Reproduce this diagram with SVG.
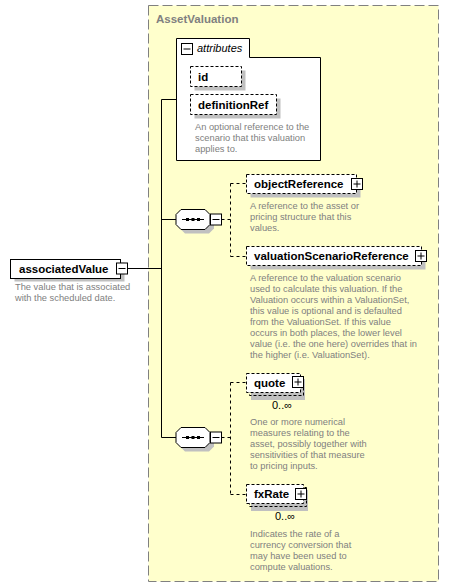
<svg xmlns="http://www.w3.org/2000/svg" width="449" height="588" viewBox="0 0 449 588">
<style>
.name{font-family:"Liberation Sans",Arial,sans-serif;font-weight:bold;font-size:11.5px;fill:#000}
.desc{font-family:"Liberation Sans",Arial,sans-serif;font-size:9.3px;fill:#808080}
.occ{font-family:"Liberation Sans",Arial,sans-serif;font-size:11px;fill:#000;text-anchor:middle}
.box{fill:#fff;stroke:#000;stroke-width:1}
.dbox{fill:#fff;stroke:#000;stroke-width:1;stroke-dasharray:3,2}
.dback{fill:none;stroke:#000;stroke-width:1;stroke-dasharray:3,2}
.shadow{fill:#c0c0c0}
.line{stroke:#000;stroke-width:1;fill:none}
.dline{stroke:#000;stroke-width:1;fill:none;stroke-dasharray:3,3}
.btn{fill:#fff;stroke:#000;stroke-width:1}
</style>
<defs>
<g id="minus"><rect class="btn" x="0" y="0" width="11" height="11"/><line class="line" x1="2" y1="5.5" x2="9" y2="5.5"/></g>
<g id="plus"><rect class="btn" x="0" y="0" width="11" height="11"/><line class="line" x1="2" y1="5.5" x2="9" y2="5.5"/><line class="line" x1="5.5" y1="2" x2="5.5" y2="9"/></g>
<g id="seq">
<polygon class="shadow" points="9,4 33,4 38,9 38,19 33,24 9,24 4,19 4,9"/>
<polygon class="box" points="5,0 29,0 34,5 34,15 29,20 5,20 0,15 0,5"/>
<line class="line" x1="6" y1="10" x2="28" y2="10"/>
<rect x="10" y="8.5" width="3" height="3" fill="#000"/>
<rect x="15.5" y="8.5" width="3" height="3" fill="#000"/>
<rect x="21" y="8.5" width="3" height="3" fill="#000"/>
</g>
</defs>

<g id="AssetValuation">
<rect x="148.5" y="5.5" width="290" height="576" fill="#ffffcc" stroke="#808080" stroke-width="1" stroke-dasharray="10,4"/>
<text x="156" y="23" font-family="Liberation Sans,Arial,sans-serif" font-weight="bold" font-size="11.5" fill="#808080">AssetValuation</text>
</g>

<g id="connectors">
<line class="line" x1="128" y1="268.5" x2="161.5" y2="268.5"/>
<line class="line" x1="161.5" y1="99.5" x2="161.5" y2="437.5"/>
<line class="line" x1="161.5" y1="99.5" x2="176.5" y2="99.5"/>
<line class="line" x1="161.5" y1="219.5" x2="176" y2="219.5"/>
<line class="line" x1="161.5" y1="437.5" x2="176" y2="437.5"/>
<line class="dline" x1="221.5" y1="219.5" x2="230.5" y2="219.5"/>
<line class="dline" x1="230.5" y1="183.5" x2="230.5" y2="256.5"/>
<line class="dline" x1="230.5" y1="183.5" x2="246.5" y2="183.5"/>
<line class="dline" x1="230.5" y1="256.5" x2="246.5" y2="256.5"/>
<line class="dline" x1="221.5" y1="437.5" x2="230.5" y2="437.5"/>
<line class="dline" x1="230.5" y1="382.5" x2="230.5" y2="494.5"/>
<line class="dline" x1="230.5" y1="382.5" x2="246.5" y2="382.5"/>
<line class="dline" x1="230.5" y1="494.5" x2="246.5" y2="494.5"/>
</g>

<g id="associatedValue">
<rect class="shadow" x="14.5" y="262.5" width="110" height="19"/>
<rect class="box" x="10.5" y="259.5" width="110" height="19"/>
<text class="name" x="19" y="272.5">associatedValue</text>
<use href="#minus" x="116.5" y="263"/>
<text class="desc" x="15" y="290">The value that is associated</text>
<text class="desc" x="15" y="301">with the scheduled date.</text>
</g>

<g id="attributes">
<path class="box" d="M176.5,38.5 H249.5 V57.5 H320.5 V160.5 H176.5 Z"/>
<use href="#minus" x="181.5" y="43.5"/>
<text x="197" y="52" font-family="Liberation Sans,Arial,sans-serif" font-style="italic" font-size="11" fill="#000">attributes</text>
</g>

<g id="id">
<rect class="shadow" x="194.5" y="70.5" width="51" height="20"/>
<rect class="dbox" x="190.5" y="66.5" width="51" height="20"/>
<text class="name" x="198" y="80.5">id</text>
</g>

<g id="definitionRef">
<rect class="shadow" x="194.5" y="98.5" width="86" height="20"/>
<rect class="dbox" x="190.5" y="94.5" width="86" height="20"/>
<text class="name" x="198" y="108.5">definitionRef</text>
<text class="desc" x="195" y="130">An optional reference to the</text>
<text class="desc" x="195" y="141">scenario that this valuation</text>
<text class="desc" x="195" y="152">applies to.</text>
</g>

<g id="sequence1">
<use href="#seq" x="176" y="209.5"/>
<use href="#minus" x="210.5" y="214"/>
</g>

<g id="objectReference">
<rect class="shadow" x="250.5" y="178.5" width="110" height="19"/>
<rect class="dbox" x="246.5" y="174.5" width="110" height="19"/>
<text class="name" x="254" y="187.5">objectReference</text>
<use href="#plus" x="351.5" y="178.5"/>
<text class="desc" x="250" y="208.5">A reference to the asset or</text>
<text class="desc" x="250" y="219.5">pricing structure that this</text>
<text class="desc" x="250" y="230.5">values.</text>
</g>

<g id="valuationScenarioReference">
<rect class="shadow" x="250.5" y="250.5" width="175" height="19"/>
<rect class="dbox" x="246.5" y="246.5" width="175" height="19"/>
<text class="name" x="254" y="259.5">valuationScenarioReference</text>
<use href="#plus" x="415.5" y="250.5"/>
<text class="desc" x="250" y="280.5">A reference to the valuation scenario</text>
<text class="desc" x="250" y="291.5">used to calculate this valuation. If the</text>
<text class="desc" x="250" y="302.5">Valuation occurs within a ValuationSet,</text>
<text class="desc" x="250" y="313.5">this value is optional and is defaulted</text>
<text class="desc" x="250" y="324.5">from the ValuationSet. If this value</text>
<text class="desc" x="250" y="335.5">occurs in both places, the lower level</text>
<text class="desc" x="250" y="346.5">value (i.e. the one here) overrides that in</text>
<text class="desc" x="250" y="357.5">the higher (i.e. ValuationSet).</text>
</g>

<g id="sequence2">
<use href="#seq" x="176" y="427.5"/>
<use href="#minus" x="210.5" y="432"/>
</g>

<g id="quote">
<rect class="shadow" x="251" y="379" width="54" height="21"/>
<rect class="dback" x="249.5" y="376.5" width="54" height="19"/>
<rect class="dbox" x="246.5" y="373.5" width="54" height="19"/>
<text class="name" x="254" y="386.5">quote</text>
<use href="#plus" x="292.5" y="376.5"/>
<text class="occ" x="282" y="408.5">0..∞</text>
<text class="desc" x="250" y="424.5">One or more numerical</text>
<text class="desc" x="250" y="435.5">measures relating to the</text>
<text class="desc" x="250" y="446.5">asset, possibly together with</text>
<text class="desc" x="250" y="457.5">sensitivities of that measure</text>
<text class="desc" x="250" y="468.5">to pricing inputs.</text>
</g>

<g id="fxRate">
<rect class="shadow" x="251" y="490" width="57" height="21"/>
<rect class="dback" x="249.5" y="487.5" width="57" height="19"/>
<rect class="dbox" x="246.5" y="484.5" width="57" height="19"/>
<text class="name" x="254" y="497.5">fxRate</text>
<use href="#plus" x="295.5" y="488.5"/>
<text class="occ" x="285" y="519.5">0..∞</text>
<text class="desc" x="250" y="536.5">Indicates the rate of a</text>
<text class="desc" x="250" y="547.5">currency conversion that</text>
<text class="desc" x="250" y="558.5">may have been used to</text>
<text class="desc" x="250" y="569.5">compute valuations.</text>
</g>
</svg>
